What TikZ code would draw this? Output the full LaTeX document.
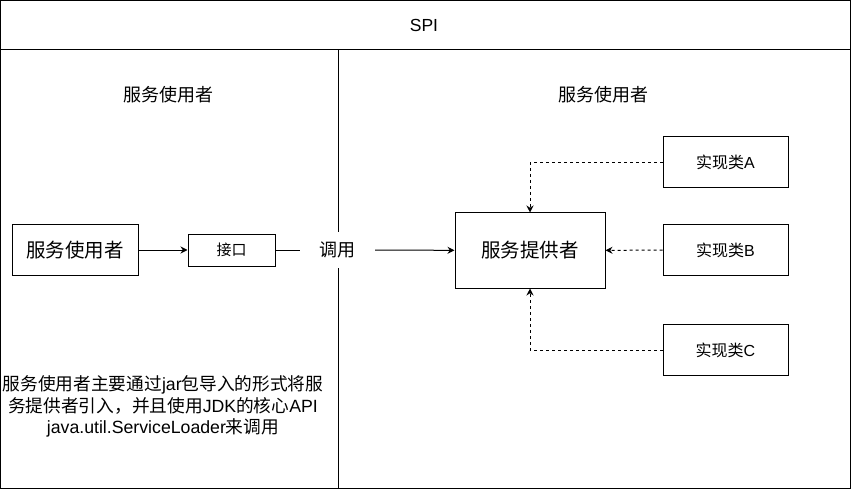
\documentclass[tikz,border=0pt]{standalone}
\usepackage{fontspec}
\setmainfont{Liberation Sans}
\newfontfamily\cjk{Noto Sans CJK SC}
\usetikzlibrary{arrows.meta}

\tikzset{
  box/.style={draw, line width=1pt, inner sep=0pt, align=center},
  dashlink/.style={-{Stealth[length=7pt,width=7pt]}, line width=1pt, dashed, dash pattern=on 3pt off 3pt},
  solidlink/.style={-{Stealth[length=7pt,width=7pt]}, line width=1pt}
}

\begin{document}
\begin{tikzpicture}[x=1pt, y=-1pt]
    \useasboundingbox (0,0) rectangle (851,489);

    % Frame
    \draw[line width=1pt] (0.5,0.5) rectangle (850,488);
    \draw[line width=1pt] (0.5,50) -- (850,50);
    \draw[line width=1pt] (338,50) -- (338,488);
    \node[font=\fontsize{17.5}{20}\selectfont] (spi) at (424,25) {SPI};

    % Titles
    \node[font=\fontsize{18}{21}\cjk] (userTitle) at (168,95) {服务使用者};
    \node[font=\fontsize{18}{21}\cjk] (provTitle) at (603,95) {服务使用者};

    % Consumer side
    \node[box, minimum width=126pt, minimum height=51pt, font=\fontsize{19.5}{22}\cjk] (user) at (75,250) {服务使用者};
    \node[box, minimum width=87pt, minimum height=32pt, font=\fontsize{15}{17}\cjk] (api) at (231.5,250) {接口};
    \node[fill=white, minimum width=75pt, minimum height=36pt, inner sep=0pt, font=\fontsize{18}{21}\cjk] (call) at (337.5,250) {调用};

    % Provider side
    \node[box, minimum width=150pt, minimum height=75pt, font=\fontsize{19.5}{22}\cjk] (prov) at (530,250.5) {服务提供者};
    \node[box, minimum width=125pt, minimum height=51pt, font=\fontsize{16}{19}\selectfont] (implA) at (725.5,162.5) {{\cjk 实现类}A};
    \node[box, minimum width=125pt, minimum height=51pt, font=\fontsize{16}{19}\selectfont] (implB) at (725.5,250) {{\cjk 实现类}B};
    \node[box, minimum width=125pt, minimum height=51pt, font=\fontsize{16}{19}\selectfont] (implC) at (725.5,350) {{\cjk 实现类}C};

    % Note
    \node[align=center, font=\fontsize{17.7}{21.5}\selectfont] (note) at (163,406.5)
        {{\cjk 服务使用者主要通过}jar{\cjk 包导入的形式将服}\\{\cjk 务提供者引入，并且使用}JDK{\cjk 的核心}API\\java.util.ServiceLoader{\cjk 来调用}};

    % Arrows
    \draw[solidlink] (user) -- (api);
    \draw[line width=1pt] (api) -- (call);
    \draw[solidlink] (call) -- (prov);
    \draw[dashlink] (implA.west) -| (prov.north);
    \draw[dashlink] (implB) -- (prov);
    \draw[dashlink] (implC.west) -| (prov.south);
\end{tikzpicture}
\end{document}
